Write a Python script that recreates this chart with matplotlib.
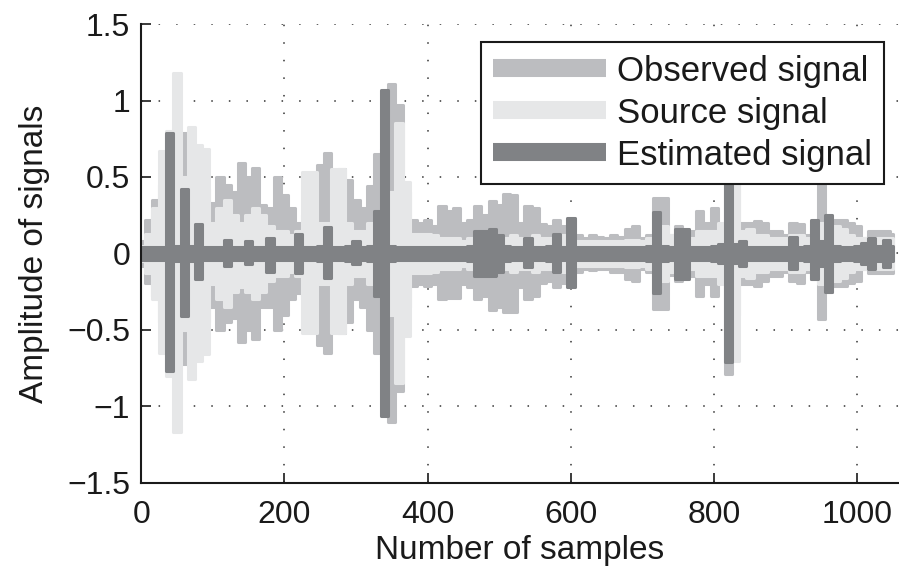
import numpy as np
import matplotlib
matplotlib.use("Agg")
import matplotlib.pyplot as plt
from matplotlib.lines import Line2D

plt.rcParams['font.family'] = ['Liberation Sans', 'DejaVu Sans']

# sample index of each 10-sample bin
samples = list(range(0, 1060, 10))

# envelope (upper / lower) of each signal per bin
obs_hi = [0.08, 0.22, 0.35, 0.45, 0.60, 0.75, 0.79, 0.55, 0.45, 0.42,
          0.33, 0.50, 0.45, 0.40, 0.59, 0.50, 0.56, 0.32, 0.30, 0.50,
          0.38, 0.30, 0.20, 0.25, 0.45, 0.58, 0.66, 0.50, 0.55, 0.48,
          0.35, 0.30, 0.44, 0.65, 0.68, 1.11, 0.97, 0.40, 0.22, 0.20,
          0.22, 0.18, 0.31, 0.28, 0.30, 0.20, 0.22, 0.31, 0.25, 0.34,
          0.32, 0.39, 0.38, 0.20, 0.31, 0.30, 0.19, 0.18, 0.22, 0.18,
          0.22, 0.12, 0.10, 0.12, 0.11, 0.10, 0.12, 0.11, 0.16, 0.18,
          0.10, 0.12, 0.36, 0.36, 0.12, 0.18, 0.13, 0.15, 0.28, 0.20,
          0.30, 0.15, 0.90, 0.45, 0.20, 0.20, 0.21, 0.20, 0.15, 0.15,
          0.12, 0.20, 0.19, 0.12, 0.15, 0.45, 0.20, 0.22, 0.22, 0.20,
          0.18, 0.10, 0.15, 0.15, 0.15, 0.13]
obs_lo = [-0.08, -0.19, -0.28, -0.45, -0.55, -0.70, -0.72, -0.50, -0.45, -0.45,
          -0.35, -0.50, -0.45, -0.42, -0.58, -0.50, -0.56, -0.35, -0.35, -0.50,
          -0.40, -0.30, -0.26, -0.30, -0.50, -0.60, -0.65, -0.50, -0.52, -0.45,
          -0.30, -0.35, -0.50, -0.65, -0.70, -1.10, -0.90, -0.35, -0.21, -0.20,
          -0.21, -0.20, -0.30, -0.29, -0.29, -0.20, -0.22, -0.30, -0.28, -0.37,
          -0.35, -0.38, -0.38, -0.22, -0.30, -0.28, -0.19, -0.18, -0.22, -0.19,
          -0.20, -0.12, -0.10, -0.11, -0.10, -0.10, -0.12, -0.12, -0.17, -0.18,
          -0.10, -0.12, -0.36, -0.36, -0.14, -0.18, -0.14, -0.15, -0.28, -0.20,
          -0.28, -0.15, -0.79, -0.40, -0.20, -0.20, -0.21, -0.18, -0.15, -0.15,
          -0.12, -0.18, -0.19, -0.12, -0.17, -0.43, -0.25, -0.21, -0.21, -0.19,
          -0.18, -0.10, -0.13, -0.13, -0.13, -0.13]

src_hi = [0.05, 0.13, 0.30, 0.67, 0.80, 1.18, 0.50, 0.83, 0.71, 0.68,
          0.20, 0.30, 0.35, 0.25, 0.20, 0.25, 0.30, 0.25, 0.18, 0.15,
          0.15, 0.12, 0.15, 0.53, 0.53, 0.20, 0.20, 0.55, 0.55, 0.20,
          0.15, 0.15, 0.20, 0.25, 0.30, 0.40, 0.85, 0.47, 0.13, 0.13,
          0.13, 0.12, 0.10, 0.10, 0.10, 0.08, 0.10, 0.12, 0.12, 0.15,
          0.10, 0.10, 0.12, 0.10, 0.10, 0.12, 0.10, 0.10, 0.12, 0.12,
          0.10, 0.08, 0.08, 0.08, 0.08, 0.08, 0.08, 0.08, 0.09, 0.09,
          0.08, 0.10, 0.15, 0.18, 0.12, 0.12, 0.10, 0.10, 0.15, 0.15,
          0.15, 0.20, 0.60, 0.85, 0.15, 0.16, 0.12, 0.12, 0.10, 0.10,
          0.10, 0.12, 0.12, 0.10, 0.12, 0.20, 0.15, 0.18, 0.16, 0.12,
          0.10, 0.10, 0.10, 0.10, 0.10, 0.10]
src_lo = [-0.05, -0.13, -0.30, -0.65, -0.80, -1.17, -0.50, -0.82, -0.70, -0.66,
          -0.20, -0.30, -0.35, -0.25, -0.22, -0.25, -0.30, -0.25, -0.18, -0.15,
          -0.15, -0.12, -0.15, -0.52, -0.52, -0.20, -0.20, -0.52, -0.52, -0.20,
          -0.15, -0.15, -0.20, -0.25, -0.30, -0.40, -0.85, -0.54, -0.13, -0.13,
          -0.13, -0.12, -0.10, -0.10, -0.10, -0.08, -0.10, -0.12, -0.12, -0.15,
          -0.10, -0.10, -0.12, -0.10, -0.10, -0.12, -0.10, -0.10, -0.12, -0.12,
          -0.10, -0.08, -0.08, -0.08, -0.08, -0.08, -0.08, -0.08, -0.09, -0.09,
          -0.08, -0.10, -0.15, -0.18, -0.12, -0.12, -0.10, -0.10, -0.15, -0.15,
          -0.15, -0.20, -0.60, -0.70, -0.15, -0.16, -0.12, -0.12, -0.10, -0.10,
          -0.10, -0.12, -0.12, -0.10, -0.12, -0.20, -0.15, -0.18, -0.16, -0.12,
          -0.10, -0.10, -0.10, -0.10, -0.10, -0.10]

est_hi = [0.04, 0.04, 0.04, 0.04, 0.79, 0.05, 0.42, 0.05, 0.19, 0.04,
          0.04, 0.04, 0.09, 0.04, 0.04, 0.08, 0.04, 0.04, 0.10, 0.04,
          0.04, 0.04, 0.13, 0.04, 0.04, 0.05, 0.17, 0.04, 0.04, 0.05,
          0.08, 0.04, 0.05, 0.28, 1.07, 0.05, 0.04, 0.04, 0.04, 0.04,
          0.04, 0.04, 0.04, 0.04, 0.04, 0.04, 0.05, 0.15, 0.15, 0.16,
          0.12, 0.05, 0.04, 0.04, 0.10, 0.04, 0.04, 0.05, 0.13, 0.04,
          0.23, 0.04, 0.04, 0.04, 0.04, 0.04, 0.04, 0.04, 0.04, 0.04,
          0.04, 0.05, 0.27, 0.05, 0.04, 0.16, 0.16, 0.04, 0.04, 0.04,
          0.05, 0.06, 0.84, 0.06, 0.08, 0.04, 0.04, 0.04, 0.04, 0.04,
          0.04, 0.11, 0.04, 0.05, 0.22, 0.08, 0.25, 0.05, 0.04, 0.04,
          0.05, 0.07, 0.10, 0.05, 0.09, 0.05]
est_lo = [-0.04, -0.04, -0.04, -0.04, -0.77, -0.05, -0.41, -0.05, -0.17, -0.04,
          -0.04, -0.04, -0.08, -0.04, -0.04, -0.07, -0.04, -0.04, -0.12, -0.04,
          -0.04, -0.04, -0.13, -0.04, -0.04, -0.05, -0.16, -0.04, -0.04, -0.05,
          -0.07, -0.04, -0.05, -0.28, -1.06, -0.05, -0.04, -0.04, -0.04, -0.04,
          -0.04, -0.04, -0.04, -0.04, -0.04, -0.04, -0.05, -0.15, -0.15, -0.15,
          -0.12, -0.05, -0.04, -0.04, -0.09, -0.04, -0.04, -0.05, -0.12, -0.04,
          -0.22, -0.04, -0.04, -0.04, -0.04, -0.04, -0.04, -0.04, -0.04, -0.04,
          -0.04, -0.05, -0.26, -0.05, -0.04, -0.17, -0.17, -0.04, -0.04, -0.04,
          -0.05, -0.06, -0.71, -0.06, -0.08, -0.04, -0.04, -0.04, -0.04, -0.04,
          -0.04, -0.10, -0.04, -0.05, -0.17, -0.08, -0.25, -0.05, -0.04, -0.04,
          -0.05, -0.07, -0.10, -0.05, -0.09, -0.05]

labels = ["Observed signal", "Source signal", "Estimated signal"]
colors = ["#bcbdc0", "#e6e7e8", "#808285"]

xticks = [0, 200, 400, 600, 800, 1000]
yticks = [-1.5, -1, -0.5, 0, 0.5, 1, 1.5]
ytick_labels = ["\u22121.5", "\u22121", "\u22120.5", "0", "0.5", "1", "1.5"]

fig = plt.figure(figsize=(8.99, 5.79), dpi=100)
ax = fig.add_axes([0.157, 0.166, 0.843, 0.7925])

x = np.array(samples)
for hi, lo, c in [(obs_hi, obs_lo, colors[0]), (src_hi, src_lo, colors[1]),
                  (est_hi, est_lo, colors[2])]:
    ax.fill_between(x, lo, hi, step='mid', facecolor=c, edgecolor=c,
                    linewidth=2.2, joinstyle='round', zorder=2)

ax.set_xlim(0, 1058)
ax.set_ylim(-1.5, 1.5)
ax.set_xticks(xticks)
ax.set_yticks(yticks)
ax.set_yticklabels(ytick_labels)
ax.tick_params(direction='in', length=7, width=1.2, labelsize=23, colors='#1a1a1a')
ax.tick_params(axis='x', pad=12)
ax.tick_params(axis='y', pad=8)
ax.grid(True, color='#333333', linestyle=(0, (1, 10.5)), linewidth=1.1, zorder=1)
ax.set_axisbelow(True)
for s in ['top', 'right']:
    ax.spines[s].set_visible(False)
for s in ['left', 'bottom']:
    ax.spines[s].set_linewidth(1.5)
    ax.spines[s].set_color('#1a1a1a')
    ax.spines[s].set_zorder(5)

ax.set_xlabel("Number of samples", fontsize=24, color='#1a1a1a', labelpad=4)
ax.set_ylabel("Amplitude of signals", fontsize=24, color='#1a1a1a', labelpad=12)

handles = [Line2D([], [], color=c, linewidth=13, solid_capstyle='butt') for c in colors]
leg = ax.legend(handles, labels, loc='upper right', bbox_to_anchor=(0.98, 0.96),
                fontsize=25, frameon=True, fancybox=False, edgecolor='#1a1a1a',
                framealpha=1, handlelength=3.25, handletextpad=0.3,
                labelspacing=0.26, borderpad=0.35, borderaxespad=0)
leg.get_frame().set_linewidth(1.5)
leg.set_zorder(10)
for t in leg.get_texts():
    t.set_color('#1a1a1a')

fig.savefig("out.png", dpi=100)
